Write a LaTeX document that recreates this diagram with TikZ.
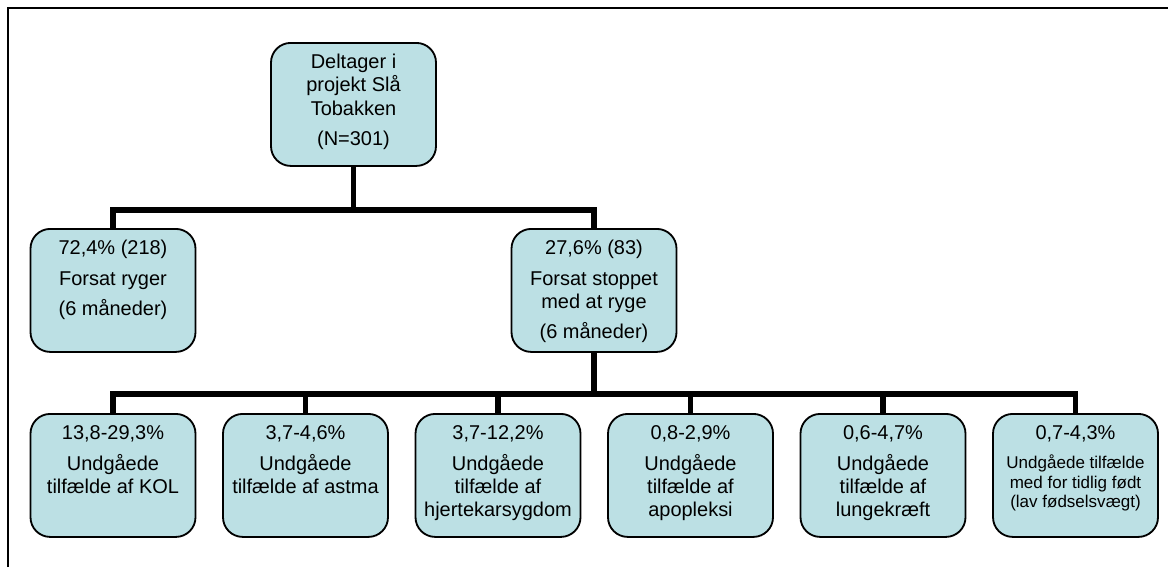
\documentclass[tikz,border=0pt]{standalone}
\usepackage{fontspec}
\setmainfont{Liberation Sans}
\usetikzlibrary{positioning}

\newlength{\pxu}
\setlength{\pxu}{0.025cm}
\definecolor{boksblaa}{RGB}{188,224,228}
% top aligned text in a box of fixed size
\newcommand{\boksindhold}[1]{\parbox[c][123\pxu][t]{165\pxu}{\centering\fontsize{14.2}{16.4}\selectfont\rule{0pt}{26\pxu}#1\par}}

\begin{document}
\begin{tikzpicture}[x=0.025cm,y=-0.025cm,
    boks/.style={draw=black,line width=1.3pt,rounded corners=14pt,fill=boksblaa,inner sep=0pt,anchor=north},
    forbindelse/.style={draw=black,line width=4pt},
    ramme/.style={draw=black,line width=1.4pt}]
    \useasboundingbox (0,0) rectangle (1168,567);
    \draw[ramme] (8,567) -- (8,8) -- (1168,8);

    \node[boks] (deltager) at (353.5,42) {\boksindhold{Deltager i\\ projekt Slå\\ Tobakken\\[5.5pt] (N=301)}};
    \node[boks] (ryger) at (113,228) {\boksindhold{72,4\% (218)\\[5pt] Forsat ryger\\[5pt] (6 måneder)}};
    \node[boks] (stoppet) at (594,228) {\boksindhold{27,6\% (83)\\[5pt] Forsat stoppet\\ med at ryge\\[5pt] (6 måneder)}};

    \node[boks] (kol) at (113,413) {\boksindhold{13,8-29,3\%\\[5pt] Undgåede\\ tilfælde af KOL}};
    \node[boks] (astma) at (305.5,413) {\boksindhold{3,7-4,6\%\\[5pt] Undgåede\\ tilfælde af astma}};
    \node[boks] (hjerte) at (498,413) {\boksindhold{3,7-12,2\%\\[5pt] Undgåede\\ tilfælde af\\ hjertekarsygdom}};
    \node[boks] (apopleksi) at (690.5,413) {\boksindhold{0,8-2,9\%\\[5pt] Undgåede\\ tilfælde af\\ apopleksi}};
    \node[boks] (lunge) at (883,413) {\boksindhold{0,6-4,7\%\\[5pt] Undgåede\\ tilfælde af\\ lungekræft}};
    \node[boks] (foedsel) at (1075.5,413) {\boksindhold{0,7-4,3\%\par\vspace{6.5pt}%
        {\fontsize{12.1}{13.9}\selectfont Undgåede tilfælde\\ med for tidlig født\\ (lav fødselsvægt)\par}}};

    \coordinate (gren1) at (353.5,210);
    \coordinate (gren2) at (594,394);
    \draw[forbindelse] (deltager.south) -- (gren1);
    \draw[forbindelse] (gren1) -| (ryger.north);
    \draw[forbindelse] (gren1) -| (stoppet.north);
    \draw[forbindelse] (stoppet.south) -- (gren2);
    \foreach \n in {kol,astma,hjerte,apopleksi,lunge,foedsel}
        \draw[forbindelse] (gren2) -| (\n.north);
\end{tikzpicture}
\end{document}
